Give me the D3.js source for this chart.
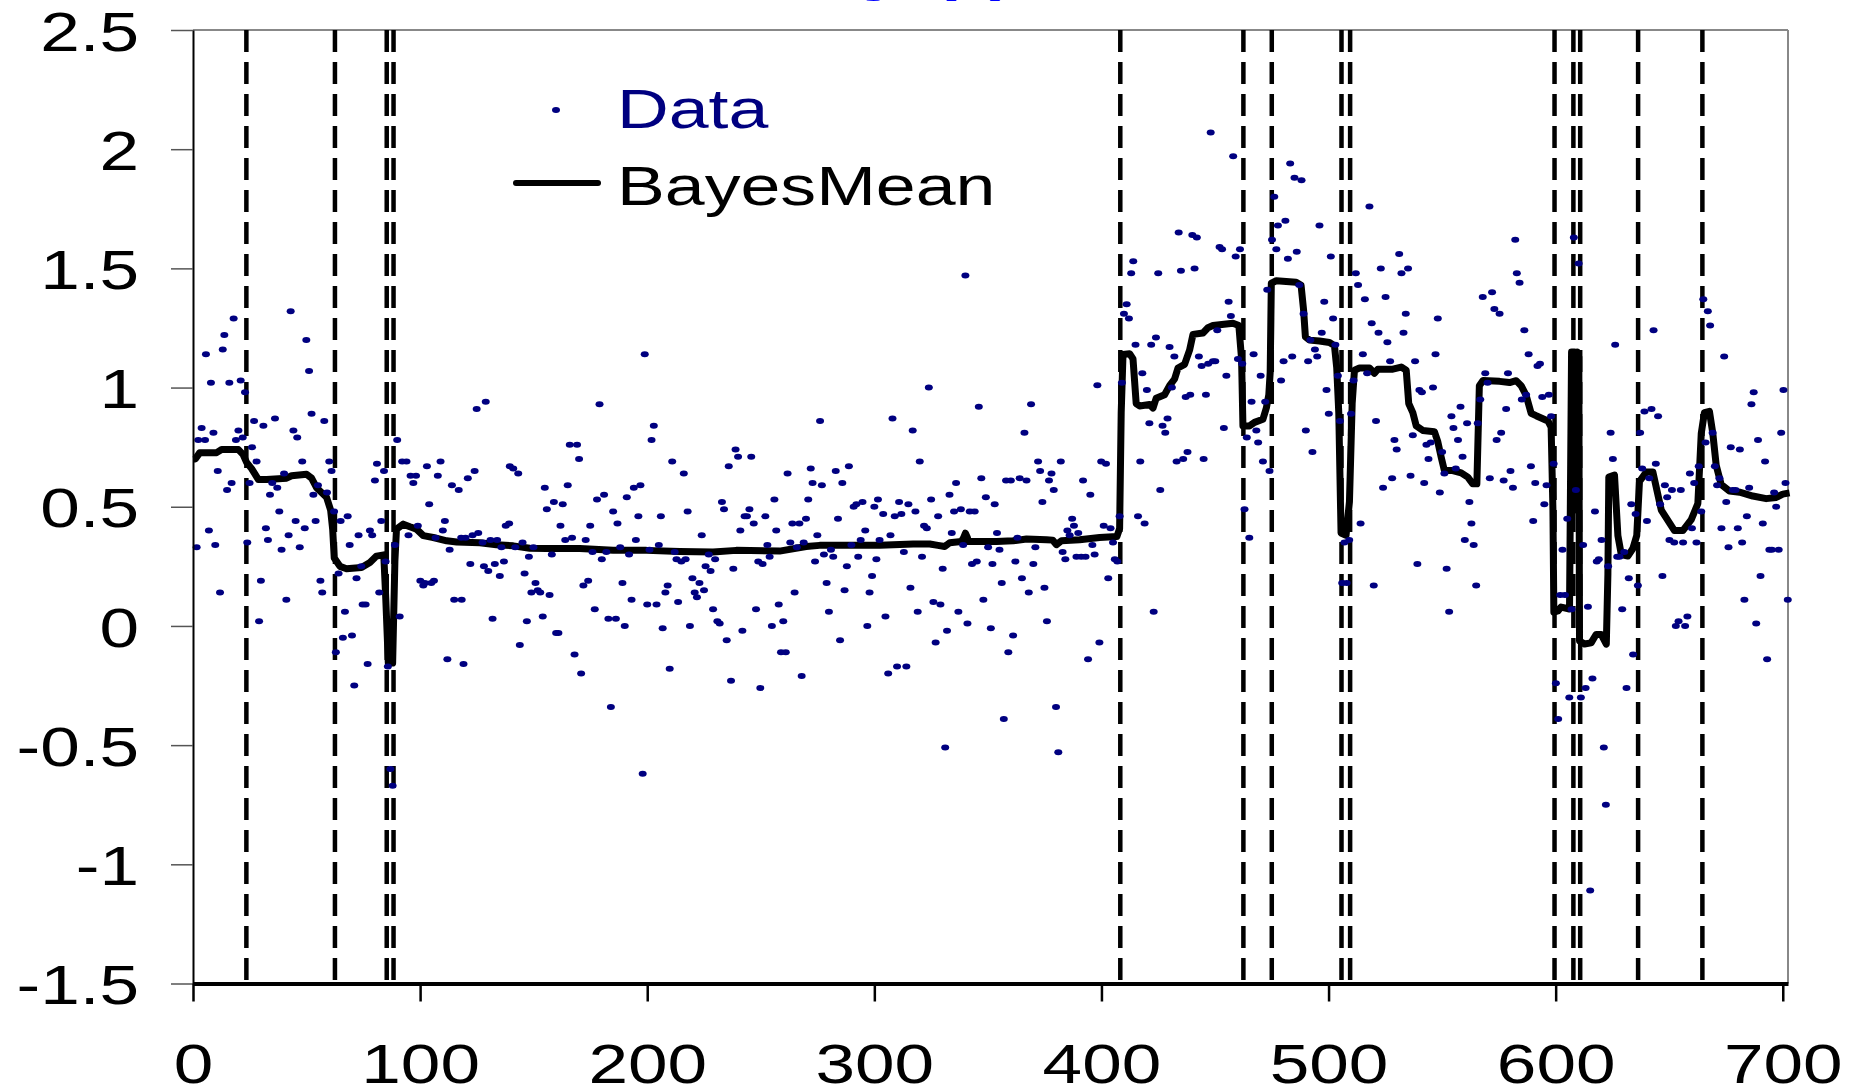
<!DOCTYPE html>
<html>
<head>
<meta charset="utf-8">
<script src="https://cdn.jsdelivr.net/npm/d3@7"></script>
<style>
  html, body { margin: 0; padding: 0; background: #fff; }
  svg { display: block; }
  text { font-family: "Liberation Sans", Arial, sans-serif; }
</style>
</head>
<body>
<div id="chart"></div>
<script>
// Axis ticks
const xTicks = [0, 100, 200, 300, 400, 500, 600, 700];
const yTicks = [-1.5, -1, -0.5, 0, 0.5, 1, 1.5, 2, 2.5];

// Detected change points (dashed verticals)
const changePoints = [23.5, 62.5, 85.3, 88.3, 408.3, 462.5, 475, 505.7, 509.5,
    599.5, 607.8, 610.8, 636.3, 664.6];

// Observed series [index, value]
const observed = [
  [1.6,0.33],[2.3,0.78],[3.8,0.83],[5.3,0.78],[5.7,1.14],[7.0,0.40],[7.9,1.02],[9.0,0.81],[9.8,0.34],[10.9,0.65],
  [11.9,0.14],[13.1,1.16],[13.8,1.22],[15.0,0.57],[16.0,1.02],[17.0,0.60],[17.9,1.29],[18.9,0.78],[20.0,0.82],[21.0,1.03],
  [21.9,0.79],[22.9,0.98],[23.9,0.35],[24.9,0.60],[26.0,0.75],[26.9,0.86],[28.0,0.69],[29.1,0.02],[29.9,0.19],[31.0,0.84],
  [32.1,0.41],[33.0,0.36],[33.9,0.55],[34.9,0.60],[36.1,0.87],[37.1,0.58],[38.0,0.48],[39.0,0.32],[40.1,0.64],[41.1,0.11],
  [42.1,0.38],[43.0,1.32],[44.2,0.82],[45.2,0.44],[45.9,0.79],[47.0,0.33],[48.1,0.69],[49.2,0.41],[49.9,1.20],[51.1,1.07],
  [52.2,0.89],[53.0,0.55],[54.0,0.44],[55.0,0.59],[56.1,0.19],[56.9,0.14],[57.8,0.86],[59.0,0.56],[60.0,0.69],[61.0,0.65],
  [62.1,0.48],[62.9,-0.11],[64.1,0.22],[65.0,0.44],[66.0,-0.05],[66.9,0.06],[68.1,0.46],[69.0,0.34],[70.0,-0.04],[71.0,-0.25],
  [72.0,0.20],[72.9,0.38],[74.1,0.25],[74.7,0.09],[76.0,0.09],[76.9,-0.16],[77.9,0.40],[78.9,0.38],[80.1,0.61],[81.0,0.68],
  [82.0,0.14],[82.9,0.44],[84.1,0.65],[84.8,0.27],[85.8,-0.17],[86.9,-0.60],[87.9,-0.67],[88.9,0.34],[89.9,0.78],[91.0,0.04],
  [92.1,0.69],[94.0,0.69],[94.9,0.38],[95.8,0.63],[97.0,0.60],[98.2,0.63],[99.0,0.42],[100.1,0.19],[101.4,0.17],[102.1,0.18],
  [103.0,0.67],[104.0,0.51],[104.9,0.18],[106.1,0.19],[106.8,0.37],[107.8,0.63],[109.0,0.69],[110.0,0.40],[110.9,0.44],[112.0,-0.14],
  [113.0,0.32],[114.0,0.59],[115.0,0.11],[117.0,0.57],[118.3,0.11],[118.1,0.37],[119.1,-0.16],[120.0,0.37],[121.0,0.62],[122.1,0.26],
  [123.1,0.38],[124.0,0.65],[124.9,0.91],[125.6,0.39],
  [127.5,0.35],[128.1,0.25],[128.9,0.94],[130.0,0.23],[131.0,0.36],[131.9,0.03],[132.9,0.26],[133.9,0.36],[135.1,0.21],[135.8,0.33],
  [136.9,0.27],[137.7,0.42],[139.2,0.43],[139.5,0.67],[141.0,0.66],[141.9,0.33],[143.2,0.64],[143.9,-0.08],[145.1,0.35],[146.0,0.22],
  [147.0,0.02],[147.9,0.29],[149.0,0.14],[149.9,0.33],[150.8,0.18],[151.8,0.15],[152.9,0.14],[154.0,0.04],[154.9,0.58],[155.8,0.49],
  [157.0,0.13],[158.0,0.30],[158.9,0.52],[159.9,-0.03],[160.9,-0.03],[161.8,0.42],[162.8,0.51],[163.9,0.36],[165.0,0.59],[165.9,0.76],
  [166.9,0.37],[168.0,-0.12],[169.1,0.76],[170.0,0.70],[170.9,-0.20],[171.9,0.17],[172.9,0.36],[174.0,0.19],[174.9,0.42],[175.9,0.31],
  [176.9,0.07],[177.9,0.53],[179.0,0.93],[180.0,0.28],[181.0,0.55],[182.0,0.31],[182.9,0.03],[184.0,-0.34],[185.0,0.48],[186.2,0.03],
  [186.9,0.43],[188.1,0.33],[189.1,0.18],[190.1,0.00],[191.0,0.54],[192.0,0.30],[193.1,0.11],[194.1,0.58],[195.0,0.36],[196.1,0.46],
  [197.0,0.59],[198.0,-0.62],[198.9,1.14],[200.0,0.09],[201.0,0.32],[201.9,0.78],[202.9,0.84],[204.1,0.09],[205.1,0.34],[206.0,0.46],
  [206.8,-0.01],[208.0,0.14],[209.0,0.17],[209.9,-0.18],[211.0,0.69],[212.1,0.31],[212.9,0.28],[213.6,0.10],
  [215.0,0.27],[216.1,0.64],[216.9,0.28],[217.8,0.48],[218.8,0.00],[219.9,0.20],[220.9,0.14],[221.9,0.12],[223.0,0.18],[224.0,0.38],
  [225.0,0.15],[225.7,0.25],[227.1,0.30],[227.9,0.23],[229.0,0.07],[229.9,0.28],[230.9,0.02],[231.9,0.01],[232.9,0.52],[233.8,0.49],
  [235.0,-0.06],[235.9,0.67],[236.9,-0.23],[237.9,0.24],[238.9,0.74],[240.0,0.71],[241.0,0.40],[241.9,-0.02],[242.9,0.46],[243.9,0.46],
  [245.0,0.49],[245.8,0.71],[246.9,0.43],[247.9,0.07],[248.9,0.27],[249.8,-0.26],[250.8,0.26],[252.0,0.46],[252.9,0.34],[253.9,0.29],
  [254.9,0.00],[256.0,0.53],[256.8,0.40],[257.9,0.09],[258.9,-0.11],[259.9,0.02],[261.0,-0.11],[261.8,0.64],[263.0,0.35],[263.9,0.43],
  [264.9,0.14],[265.9,0.33],[267.0,0.43],[268.0,-0.21],[268.9,0.35],[269.9,0.45],[270.9,0.53],[272.0,0.66],[272.8,0.60],[273.9,0.27],
  [274.9,0.38],[276.1,0.86],[276.9,0.59],[277.8,0.30],[279.0,0.18],[280.0,0.06],[280.9,0.32],[281.9,0.29],[283.0,0.65],[284.0,0.45],
  [284.9,-0.06],[285.9,0.60],[286.9,0.15],[287.9,0.25],[288.8,0.67],[289.9,0.34],[290.9,0.50],[292.1,0.51],[292.9,0.29],[294.0,0.36],
  [294.8,0.52],[296.0,0.40],[296.9,0.00],[297.9,0.14],[299.0,0.21],[300.0,0.50],[300.9,0.28],[301.6,0.53],[302.3,0.36],
  [303.9,0.47],[304.9,0.04],[306.1,-0.20],[307.1,0.38],[308.0,0.87],[309.0,0.46],[310.0,-0.17],[310.9,0.52],[311.9,0.47],[313.0,0.31],
  [314.1,-0.17],[315.0,0.51],[315.9,0.16],[316.9,0.82],[318.1,0.48],[319.1,0.06],[320.0,0.69],[321.0,0.29],[321.9,0.42],[323.1,0.41],
  [324.0,1.00],[325.0,0.53],[326.0,0.10],[327.0,-0.07],[328.1,0.46],[329.1,0.09],[330.1,0.24],[331.2,-0.51],[332.0,-0.02],[333.1,0.55],
  [334.1,0.39],[335.1,0.48],[336.0,0.60],[337.0,0.06],[338.1,0.49],[339.1,0.34],[340.1,1.47],[341.0,0.01],[342.0,0.48],[343.0,0.26],
  [344.2,0.48],[345.1,0.27],[346.0,0.92],[347.1,0.62],[348.0,0.11],[349.1,0.54],[350.1,0.33],[351.3,-0.01],[352.0,0.26],[353.0,0.51],
  [354.0,0.39],[355.1,0.32],[356.1,0.18],[357.0,-0.39],[358.0,0.61],[359.0,-0.11],[360.1,0.61],[361.1,-0.04],[362.1,0.27],[363.0,0.37],
  [364.0,0.62],[365.0,0.20],[366.1,0.81],[367.0,0.61],[368.0,0.14],[369.0,0.93],[370.0,0.26],[370.9,0.33],[372.1,0.69],[373.0,0.65],
  [374.0,0.52],[374.9,0.16],[376.0,0.02],[376.9,0.61],[378.0,0.64],[379.0,0.57],[380.0,-0.34],[381.0,-0.53],[382.1,0.69],[382.9,0.31],
  [384.1,0.28],[385.0,0.40],[386.0,0.38],[387.1,0.45],[387.9,0.42],[389.0,0.29],[389.8,0.39],
  [391.1,0.29],[391.9,0.61],[393.0,0.29],[394.1,-0.14],[395.1,0.55],[396.0,0.34],[397.0,0.30],[398.2,1.01],[399.1,-0.07],[399.9,0.69],
  [401.0,0.42],[402.0,0.68],[403.0,0.20],[404.0,0.41],[405.1,0.35],[405.9,0.28],[407.0,0.27],[408.0,0.46],[409.0,1.02],[409.9,1.31],
  [411.1,1.35],[412.1,1.29],[413.1,1.48],[414.0,1.53],[415.0,1.18],[416.1,0.46],[417.1,0.69],[418.0,1.06],[419.0,0.43],[420.0,0.99],
  [421.1,0.85],[421.9,1.18],[423.0,0.06],[424.0,1.21],[425.0,1.48],[425.9,0.57],[426.9,0.84],[428.1,0.81],[429.1,0.87],[430.0,1.17],
  [431.0,1.00],[432.1,1.13],[433.1,0.69],[434.0,1.65],[435.0,1.49],[436.0,0.70],[437.1,0.96],[437.9,0.73],[439.1,0.97],[440.0,1.64],
  [441.0,1.50],[442.0,1.63],[442.9,1.13],[444.1,1.09],[445.0,0.70],[446.0,0.97],[447.0,1.10],[448.1,2.07],[449.1,1.11],[450.1,1.11],
  [451.0,1.24],[452.0,1.59],[453.1,1.58],[453.9,0.83],[455.0,1.05],[456.0,1.36],[457.0,1.30],[458.0,1.97],[459.1,1.55],[460.1,1.12],
  [461.0,1.58],[462.0,1.10],[463.0,0.49],[464.0,0.79],[465.1,0.37],[466.1,0.94],[467.0,1.14],[468.2,0.82],[469.0,0.77],[470.1,1.05],
  [471.1,0.69],[472.1,0.94],[473.0,1.41],[474.0,0.65],[475.1,1.62],[476.1,1.80],[477.0,1.58],[477.7,1.68],
  [479.1,1.03],[480.2,1.11],[481.0,1.70],[482.1,1.54],[483.1,1.94],[484.0,1.13],[485.0,1.88],[486.0,1.57],[487.1,1.43],[488.1,1.87],
  [489.0,1.31],[490.0,0.82],[491.0,1.11],[492.0,1.20],[492.9,0.73],[494.0,1.16],[495.0,1.13],[496.0,1.68],[497.0,1.23],[498.1,1.36],
  [499.1,0.99],[500.1,0.89],[501.0,1.55],[502.0,1.29],[503.0,1.18],[504.1,1.05],[505.0,0.86],[506.0,0.18],[507.0,0.35],[508.0,0.18],
  [509.1,0.36],[509.9,0.89],[511.0,1.03],[512.0,1.48],[513.0,1.43],[514.1,0.43],[515.1,1.14],[516.0,1.37],[517.0,1.06],[518.0,1.76],
  [519.0,1.27],[519.9,0.17],[520.9,0.86],[522.0,1.23],[523.0,1.50],[524.0,0.58],[525.1,1.38],[525.9,1.19],[527.1,1.11],[528.0,0.62],
  [529.0,0.78],[530.0,0.74],[531.1,1.56],[532.1,1.48],[533.0,1.23],[534.0,1.31],[535.0,1.50],[536.1,0.63],[537.1,0.80],[538.1,1.11],
  [539.1,0.26],[540.0,0.99],[541.1,0.98],[542.1,0.60],[543.1,0.76],[544.0,0.70],[545.0,0.77],[546.0,1.00],[547.1,1.14],[548.1,1.29],
  [549.0,0.56],[550.0,0.73],[551.0,0.64],[552.0,0.24],[553.1,0.06],[554.1,0.88],[555.0,0.83],[556.0,0.66],[557.0,0.78],[558.1,0.92],
  [559.0,0.71],[560.0,0.36],[561.0,0.85],[562.0,0.52],[562.9,0.43],[563.9,0.34],[565.0,0.17],[565.7,0.85],
  [566.8,0.95],[567.9,1.38],[569.0,1.06],[570.0,1.02],[571.0,0.62],[572.0,1.40],[573.0,1.33],[574.0,0.78],
  [575.3,1.31],[576.0,0.81],[577.1,0.61],[578.2,0.91],[579.0,1.06],[580.1,0.65],[581.2,0.58],[582.2,1.62],[582.9,1.48],[584.1,1.44],
  [585.1,0.95],[586.2,1.24],[587.0,0.97],[588.1,1.14],[589.1,0.67],[590.1,0.44],[591.0,0.60],[592.0,1.09],[593.1,1.10],[594.1,0.96],
  [595.0,0.51],[596.0,0.59],[597.0,0.97],[598.0,0.88],[599.1,0.68],[600.1,-0.24],[601.1,-0.39],[602.0,0.13],[603.0,0.32],[604.1,0.13],
  [605.1,0.45],[606.0,-0.30],[607.0,0.07],[608.0,1.63],[608.9,0.57],[610.1,1.52],[611.1,-0.30],[612.1,0.34],[613.2,-0.26],[614.2,0.08],
  [615.2,-1.11],[616.2,-0.22],[617.3,0.48],[618.1,0.27],[619.0,0.28],[620.2,0.36],[621.2,-0.51],[622.1,-0.75],[623.1,0.25],[624.2,0.81],
  [625.2,0.70],[626.2,1.18],[627.1,0.29],[628.1,0.29],[629.3,0.07],[630.2,0.31],[631.2,-0.26],[632.2,0.20],[633.3,0.51],[634.1,-0.12],
  [635.2,0.47],[636.2,0.17],[637.2,0.81],[638.1,0.66],[639.1,0.90],[640.2,0.44],[641.2,0.62],[642.2,0.91],[643.1,1.24],[644.1,0.68],
  [645.1,0.88],[646.0,0.51],[647.0,0.21],[648.1,0.59],[649.1,0.54],[650.1,0.36],[651.2,0.57],[652.2,0.35],[652.9,0.00],[654.1,0.02],
  [655.1,0.57],[656.1,0.35],[657.0,0.00],[658.0,0.04],[659.1,0.64],[660.0,0.41],[661.0,0.60],[662.0,0.35],[663.0,0.67],[664.1,0.48],
  [665.0,1.37],[666.0,0.77],[667.0,1.32],[668.0,1.26],[669.1,0.81],[670.1,0.67],[671.1,0.59],[672.1,0.62],[673.0,0.41],[674.2,1.13],
  [675.1,0.52],[676.1,0.33],[677.1,0.75],[678.0,0.57],[679.2,0.57],[680.2,0.41],[681.1,0.74],[682.1,0.35],[683.1,0.11],[684.2,0.46],
  [685.2,0.58],[686.2,0.93],[687.2,0.98],[688.3,0.01],[689.1,0.78],[690.2,0.21],[691.2,0.43],[692.2,0.69],[693.1,-0.14],[694.1,0.32],
  [695.2,0.32],[696.2,0.56],[697.1,0.50],[698.2,0.32],[699.3,0.81],[700.3,0.99],[701.2,0.60],[702.2,0.11]
];

// Posterior mean path [index, value]
const bayesMean = [
  [0,0.70],[1,0.70],[3,0.727],[10.4,0.727],[12.6,0.74],[20,0.74],[22,0.72],[23.6,0.686],[25.8,0.66],[28.8,0.614],
  [32.4,0.614],[41.2,0.62],[43.4,0.63],[50,0.636],[52.2,0.62],[54.4,0.58],[58.8,0.54],[60.6,0.486],[61.5,0.405],[62.2,0.285],
  [64.7,0.25],[67.6,0.24],[74.2,0.245],[77.9,0.266],[80.8,0.293],[84,0.298],[84.9,0.11],[86,-0.156],[87.9,-0.156],[88.9,0.272],
  [89.6,0.406],[92.6,0.427],[95.5,0.416],[98.4,0.406],[101.4,0.379],[105.8,0.371],[111.7,0.357],[116.1,0.352],[126.3,0.349],[133.6,0.341],
  [141,0.336],[148.3,0.326],[155.6,0.325],[170.3,0.325],[185,0.318],[199.7,0.317],[214.3,0.312],[229,0.310],[239.2,0.317],[258.3,0.314],
  [270,0.333],[275.9,0.338],[302.4,0.338],[317.1,0.344],[324.4,0.344],[328,0.338],[331,0.333],[333.2,0.349],[338.3,0.354],[339.3,0.37],
  [340.1,0.389],[341,0.37],[341.3,0.354],[353.8,0.354],[361.1,0.357],[367,0.365],[375.8,0.362],[378.5,0.36],[380.2,0.341],[382.4,0.357],
  [390.4,0.362],[399.2,0.371],[406.8,0.375],[408,0.408],[408.7,0.895],[409.5,1.139],[412.4,1.142],[413.9,1.12],[415.3,0.933],[416.8,0.923],
  [421.2,0.929],[422.7,0.914],[424.1,0.955],[427.8,0.97],[430,1.008],[432.2,1.036],[433.7,1.082],[436.6,1.097],[438.8,1.157],[440.3,1.223],
  [444.7,1.229],[446.9,1.251],[449.1,1.26],[457.9,1.27],[460.5,1.26],[461.7,1.12],[462.3,0.839],[465.2,0.839],[467.4,0.854],[471.1,0.867],
  [472.6,0.914],[473.7,0.97],[474.3,1.064],[474.8,1.438],[477,1.448],[485.7,1.442],[487.9,1.429],[489,1.326],[489.8,1.213],[491.6,1.199],
  [496,1.195],[500.4,1.189],[502.6,1.176],[503.6,1.082],[504.5,0.895],[505.5,0.39],[507.7,0.38],[509.2,0.521],[510.4,0.933],[511.4,1.073],
  [513.6,1.082],[518,1.082],[520.2,1.06],[521.7,1.077],[528.3,1.077],[532,1.086],[534.2,1.073],[535.3,0.933],[537.1,0.895],[538.6,0.839],
  [541.5,0.82],[546.6,0.815],[548.1,0.773],[549.6,0.708],[551,0.652],[554.7,0.652],[558.4,0.642],[561.3,0.624],[563.5,0.596],[565.3,0.596],
  [566.4,1.008],[568,1.03],[575.3,1.026],[579.7,1.021],[582.6,1.029],[584.8,1.008],[587,0.967],[589.2,0.892],[591.4,0.882],[596.6,0.86],
  [598,0.834],[598.8,0.486],[599.2,0.058],[601,0.063],[602.4,0.079],[606.1,0.071],[607,1.149],[608.3,1.149],[609,0.486],[609.5,1.149],
  [610.2,1.128],[610.5,-0.063],[612.7,-0.076],[615.6,-0.071],[617.8,-0.036],[620.1,-0.036],[622.3,-0.076],[623,0.218],[623.4,0.625],[625.9,0.633],
  [627.4,0.379],[628.9,0.299],[631.8,0.293],[634,0.325],[635.7,0.379],[636.9,0.606],[639.9,0.646],[642.8,0.646],[646.5,0.486],[650.1,0.432],
  [652.3,0.4],[656,0.4],[659.7,0.446],[662.6,0.513],[664.1,0.807],[665.5,0.895],[667.7,0.9],[669.2,0.807],[670.7,0.673],[672.9,0.593],
  [676.5,0.566],[681,0.561],[686.8,0.545],[692.7,0.534],[697.1,0.539],[700,0.553],[703,0.558]
];

const legendLabels = ["Data", "BayesMean"];
const titleText = "Observed y(t), fit";

// Layout
var width = 1854, height = 1091,
    plot = {left: 193, right: 1788, top: 30, bottom: 983.5},
    stretch = 1.27,          // glyphs in the original are stretched horizontally
    fontSize = 56,
    dotColor = "#000080",
    lineColor = "#000";

var svg = d3.select("#chart").append("svg")
    .attr("width", width)
    .attr("height", height);

svg.append("rect").attr("width", width).attr("height", height).attr("fill", "#fff");

var x = d3.scaleLinear().domain([0, 702.3]).range([plot.left, plot.right]);
var y = d3.scaleLinear().domain([-1.5, 2.5]).range([plot.bottom, plot.top]);

// Title sits above the page, only the descenders show
svg.append("text")
    .attr("transform", "translate(340,-18) scale(1.26,1)")
    .attr("fill", "#0000ff")
    .style("font-size", "90px")
    .text(titleText);

// Frame: top and right in grey
svg.append("line")
    .attr("x1", plot.left).attr("x2", plot.right)
    .attr("y1", plot.top).attr("y2", plot.top)
    .attr("stroke", "#888").attr("stroke-width", 2);
svg.append("line")
    .attr("x1", plot.right).attr("x2", plot.right)
    .attr("y1", plot.top).attr("y2", plot.bottom)
    .attr("stroke", "#888").attr("stroke-width", 2);

// Change point markers
svg.selectAll(".cp")
    .data(changePoints)
    .enter().append("line")
    .attr("class", "cp")
    .attr("x1", d => x(d)).attr("x2", d => x(d))
    .attr("y1", y(2.5)).attr("y2", y(-1.5) + 6)
    .attr("stroke", "#000")
    .attr("stroke-width", 4.5)
    .attr("stroke-dasharray", "22,10");

// Posterior mean
var line = d3.line()
    .x(d => x(d[0]))
    .y(d => y(d[1]));

svg.append("path")
    .datum(bayesMean)
    .attr("d", line)
    .attr("fill", "none")
    .attr("stroke", lineColor)
    .attr("stroke-width", 7)
    .attr("stroke-linejoin", "round");

// Data points
svg.selectAll(".dot")
    .data(observed)
    .enter().append("ellipse")
    .attr("class", "dot")
    .attr("cx", d => x(d[0]))
    .attr("cy", d => y(d[1]))
    .attr("rx", 4)
    .attr("ry", 3)
    .attr("fill", dotColor);

// Axes
var yAxis = d3.axisLeft(y)
    .tickValues(yTicks)
    .tickSize(22)
    .tickSizeOuter(0)
    .tickFormat(d => String(d));

var gy = svg.append("g")
    .attr("transform", "translate(" + plot.left + ",0)")
    .call(yAxis);
gy.select(".domain").attr("stroke", "#000").attr("stroke-width", 2);
gy.selectAll(".tick line").attr("stroke", "#555").attr("stroke-width", 1.5);
gy.selectAll(".tick text")
    .attr("x", -54 / stretch)
    .attr("dy", "0.36em")
    .attr("transform", "scale(" + stretch + ",1)")
    .attr("fill", "#000")
    .style("font-size", fontSize + "px")
    .style("font-family", "'Liberation Sans', Arial, sans-serif");

var xAxis = d3.axisBottom(x)
    .tickValues(xTicks)
    .tickSize(18)
    .tickSizeOuter(0)
    .tickPadding(42)
    .tickFormat(d3.format("d"));

var gx = svg.append("g")
    .attr("transform", "translate(0," + plot.bottom + ")")
    .call(xAxis);
gx.select(".domain").attr("stroke", "#000").attr("stroke-width", 4);
gx.selectAll(".tick line").attr("stroke", "#000").attr("stroke-width", 2.5);
gx.selectAll(".tick text")
    .attr("transform", "scale(" + stretch + ",1)")
    .attr("fill", "#000")
    .style("font-size", fontSize + "px")
    .style("font-family", "'Liberation Sans', Arial, sans-serif");

// Legend
var legend = svg.append("g");
legend.append("ellipse")
    .attr("cx", 556).attr("cy", 110).attr("rx", 4).attr("ry", 3)
    .attr("fill", dotColor);
legend.append("line")
    .attr("x1", 516).attr("x2", 598).attr("y1", 183).attr("y2", 183)
    .attr("stroke", lineColor).attr("stroke-width", 6).attr("stroke-linecap", "round");
legend.selectAll("text")
    .data(legendLabels)
    .enter().append("text")
    .attr("transform", (d, i) => "translate(617," + (i === 0 ? 128 : 205) + ") scale(1.28,1)")
    .attr("fill", (d, i) => i === 0 ? dotColor : "#000")
    .style("font-size", fontSize + "px")
    .text(d => d);
</script>
</body>
</html>
